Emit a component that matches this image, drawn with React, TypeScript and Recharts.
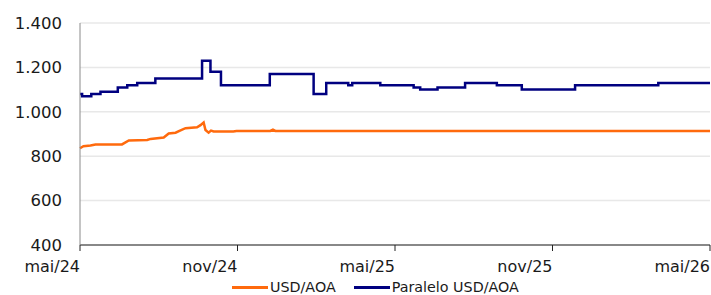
import React from "react";
import {
  LineChart,
  Line,
  XAxis,
  YAxis,
  CartesianGrid,
  Legend,
} from "recharts";

// months counted from mai/24
const tickMonths = [0, 6, 12, 18, 24];
const tickLabels = ["mai/24", "nov/24", "mai/25", "nov/25", "mai/26"];
const yTicks = [400, 600, 800, 1000, 1200, 1400];

const oficialMonths = [
  0, 0.13, 0.4, 0.59, 1.6, 1.86, 2.56, 2.69, 3.19, 3.38, 3.64, 3.83, 4.02,
  4.46, 4.59, 4.71, 4.78, 4.9, 4.99, 5.09, 5.84, 5.96, 7.25, 7.35, 7.44, 24,
];
const oficialValues = [
  836, 845, 848, 853, 853, 871, 873, 878, 884, 902, 906, 916, 926, 930, 940,
  952, 918, 906, 915, 911, 911, 913, 914, 920, 914, 914,
];

const paraleloMonths = [
  0, 0.08, 0.43, 0.78, 1.44, 1.8, 2.18, 2.87, 4.65, 4.97, 5.37, 7.23, 8.9,
  9.38, 10.22, 10.37, 11.44, 12.71, 12.96, 13.62, 14.67, 15.88, 16.83, 18.86,
  22.03, 24,
];
const paraleloValues = [
  1080, 1070, 1080, 1090, 1110, 1120, 1130, 1150, 1230, 1180, 1120, 1170,
  1080, 1130, 1120, 1130, 1120, 1110, 1100, 1110, 1130, 1120, 1100, 1120,
  1130, 1130,
];

const ORANGE = "#FF6A0D";
const NAVY = "#000080";
const FONT = "DejaVu Sans, Verdana, sans-serif";

const oficialData = oficialMonths.map((m, i) => ({ m, v: oficialValues[i] }));
const paraleloData = paraleloMonths.map((m, i) => ({ m, v: paraleloValues[i] }));

const fmtThousands = (v: number) =>
  v >= 1000 ? `${Math.floor(v / 1000)}.${String(v % 1000).padStart(3, "0")}` : String(v);

const MonthTick = (props: any) => {
  const { x, y, payload } = props;
  const idx = tickMonths.indexOf(payload.value);
  return (
    <text
      x={x}
      y={y}
      dy="0.71em"
      textAnchor="end"
      fill="#1a1a1a"
      fontSize={16}
      fontFamily={FONT}
    >
      {tickLabels[idx]}
    </text>
  );
};

const LegendBox = () => (
  <div
    style={{
      display: "flex",
      alignItems: "center",
      height: 16,
      paddingLeft: 232,
      fontFamily: FONT,
      fontSize: 14.3,
      color: "#1a1a1a",
      whiteSpace: "nowrap",
    }}
  >
    <span style={{ display: "inline-block", width: 36, height: 3, background: ORANGE }} />
    <span style={{ marginLeft: 2 }}>USD/AOA</span>
    <span style={{ display: "inline-block", width: 36, height: 3, background: NAVY, marginLeft: 18 }} />
    <span style={{ marginLeft: 2 }}>Paralelo USD/AOA</span>
  </div>
);

export default function App() {
  return (
    <div style={{ position: "absolute", left: 0, top: 0, background: "#fff" }}>
      <LineChart
        width={711}
        height={295}
        margin={{ top: 23, right: 1, left: 0, bottom: 0 }}
      >
        <CartesianGrid vertical={false} stroke="#e8e8e8" strokeWidth={1.5} />
        <XAxis
          type="number"
          dataKey="m"
          domain={[0, 24]}
          ticks={tickMonths}
          interval={0}
          height={34}
          stroke="#222"
          tickSize={6}
          tickMargin={10}
          tick={<MonthTick />}
          allowDuplicatedCategory={false}
        />
        <YAxis
          type="number"
          domain={[400, 1400]}
          ticks={yTicks}
          width={80}
          stroke="#8a8a8a"
          tickLine={false}
          tickSize={0}
          tickMargin={18}
          tickFormatter={fmtThousands}
          tick={{ fill: "#1a1a1a", fontSize: 16.5, fontFamily: FONT }}
        />
        <Legend verticalAlign="bottom" content={<LegendBox />} />
        <Line
          data={oficialData}
          dataKey="v"
          type="linear"
          stroke={ORANGE}
          strokeWidth={2.5}
          dot={false}
          isAnimationActive={false}
        />
        <Line
          data={paraleloData}
          dataKey="v"
          type="stepAfter"
          stroke={NAVY}
          strokeWidth={2.5}
          dot={false}
          isAnimationActive={false}
        />
      </LineChart>
    </div>
  );
}
